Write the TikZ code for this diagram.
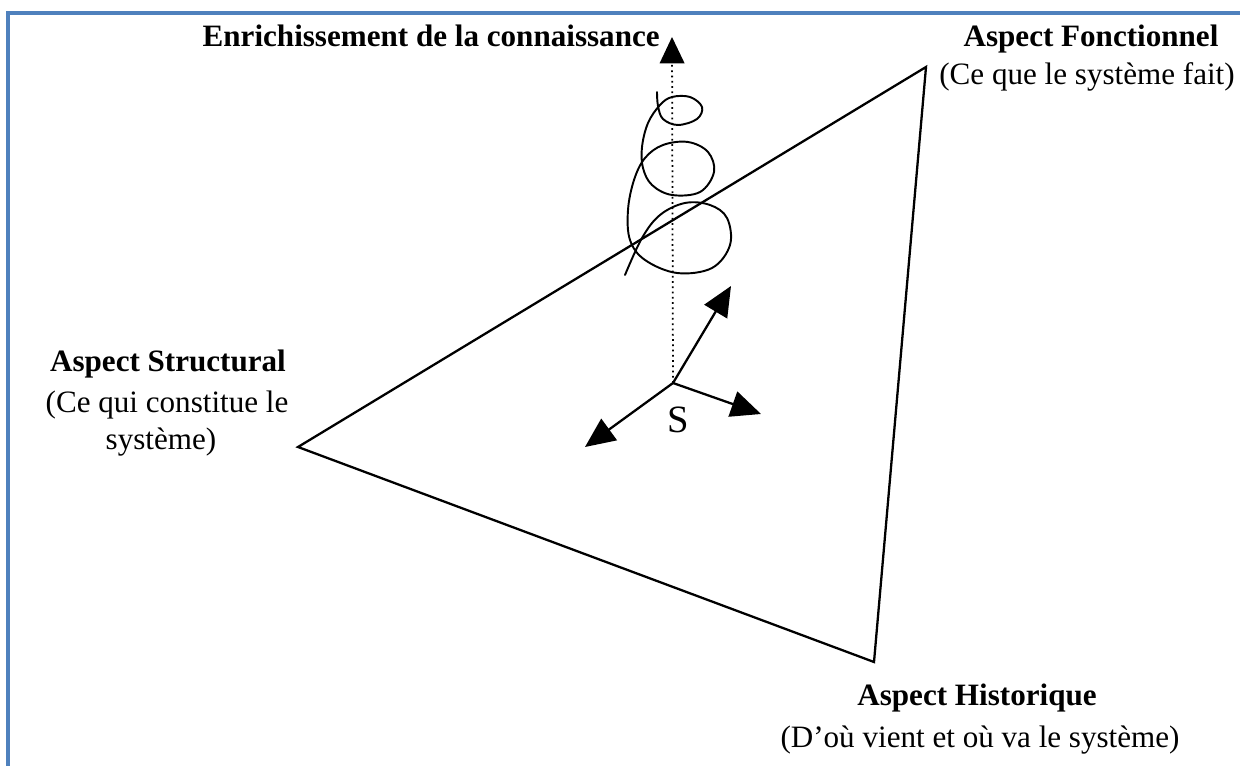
\documentclass[tikz,border=0pt]{standalone}
\usepackage{fontspec}
\setmainfont{Liberation Serif}
\usetikzlibrary{arrows.meta}
\definecolor{frameblue}{RGB}{79,129,189}
\begin{document}
\begin{tikzpicture}[x=0.02cm,y=-0.02cm,
  edge/.style={line width=1.3pt, line join=miter},
  arr/.style={line width=1.3pt,-{Triangle[length=17pt,width=15pt]}},
  ttl/.style={font=\fontsize{17.7}{21}\selectfont\bfseries, inner sep=0pt},
  sub/.style={font=\fontsize{17.7}{21}\selectfont, inner sep=0pt}]
\useasboundingbox (0,0) rectangle (1240,766);
\fill[white] (0,0) rectangle (1240,766);
% frame
\draw[frameblue, line width=1.8pt] (8,766) -- (8,13) -- (1240,13);
% triangle
\coordinate (F) at (926,67);
\coordinate (St) at (298,447);
\coordinate (H) at (874,662);
\draw[edge] (F) -- (St) -- (H) -- cycle;
% axes
\coordinate (O) at (673,383);
\coordinate (Up) at (672,37);
\coordinate (A1) at (731,286);
\coordinate (A2) at (761,414);
\coordinate (A3) at (585,447);
\draw[dotted, line width=1pt, -{Triangle[length=15pt,width=14pt]}] (O) -- (Up);
\draw[arr] (O) -- (A1);
\draw[arr] (O) -- (A2);
\draw[arr] (O) -- (A3);
\node[sub, font=\fontsize{22}{24}\selectfont] (S) at (678,420) {S};
% spiral
\draw[line width=1.1pt, line cap=round] plot[smooth, tension=0.6] coordinates {
 (657,92) (658,106) (663,119) (678,125) (697,119) (702,107) (690,97) (672,97) (660,105)
 (648,123) (642,147) (643,168) (652,185) (672,195) (700,192) (714,172) (708,152)
 (688,142) (663,145) (645,158) (634,180) (628,210) (630,240) (645,260) (677,273)
 (712,268) (730,245) (727,218) (710,205) (685,203) (660,215) (642,238) (625,275)};
% labels
\node[ttl, anchor=base east] (enr) at (660,47) {Enrichissement de la connaissance};
\node[ttl, anchor=base] (fonT) at (1091,47) {Aspect Fonctionnel};
\node[sub, anchor=base] (fonS) at (1087,85) {(Ce que le système fait)};
\node[ttl, anchor=base] (strT) at (168,372) {Aspect Structural};
\node[sub, anchor=base] (strS1) at (167,413) {(Ce qui constitue le};
\node[sub, anchor=base] (strS2) at (161,450) {système)};
\node[ttl, anchor=base] (hisT) at (977,705) {Aspect Historique};
\node[sub, anchor=base] (hisS) at (980,747) {(D’où vient et où va le système)};
\end{tikzpicture}
\end{document}
